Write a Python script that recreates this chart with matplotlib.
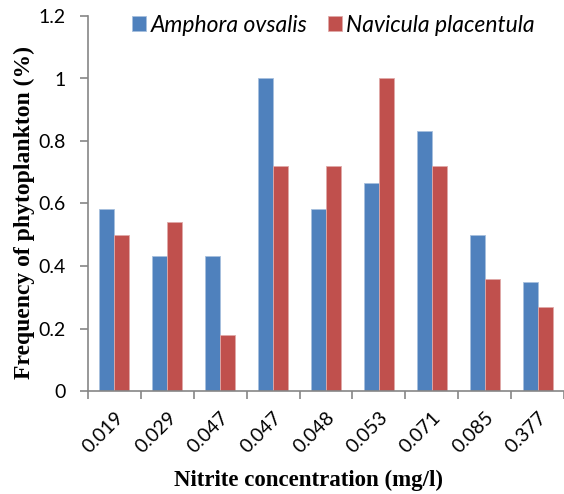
import numpy as np
import matplotlib.pyplot as plt

categories = ['0.019', '0.029', '0.047', '0.047', '0.048', '0.053', '0.071', '0.085', '0.377']
amphora = [0.583, 0.433, 0.433, 1.0, 0.583, 0.667, 0.833, 0.5, 0.35]
navicula = [0.5, 0.54, 0.18, 0.72, 0.72, 1.0, 0.72, 0.36, 0.27]

blue = '#4F81BD'
red = '#C0504D'
gray = '#868686'


def make_plot():
    fig = plt.figure(figsize=(5.64, 4.94), dpi=100)
    ax = fig.add_axes([88 / 564, 103 / 494, 476 / 564, 375 / 494])

    x = np.arange(len(categories))
    w = 0.283
    ax.bar(x - w / 2, amphora, w, color=blue, edgecolor='#a7c0de', linewidth=0.6, label='Amphora ovsalis')
    ax.bar(x + w / 2, navicula, w, color=red, edgecolor='#e0a9a8', linewidth=0.6, label='Navicula placentula')

    ax.set_xlim(-0.5, len(categories) - 0.5)
    ax.set_ylim(0, 1.2)
    ax.set_yticks([0, 0.2, 0.4, 0.6, 0.8, 1.0, 1.2])
    ax.set_yticklabels(['0', '0.2', '0.4', '0.6', '0.8', '1', '1.2'], family='Lato', fontsize=14)

    ax.set_xticks(x)
    ax.set_xticklabels(categories, rotation=45, ha='right', rotation_mode='anchor',
                       family='Lato', fontsize=14)
    ax.tick_params(axis='x', length=0, pad=13)
    ax.set_xticks(np.arange(len(categories) + 1) - 0.5, minor=True)
    ax.tick_params(axis='x', which='minor', length=6, color=gray, width=1.2)
    ax.tick_params(axis='y', length=6, color=gray, width=1.2, pad=10)

    for s in ['top', 'right']:
        ax.spines[s].set_visible(False)
    for s in ['left', 'bottom']:
        ax.spines[s].set_color(gray)
        ax.spines[s].set_linewidth(1.2)

    ax.set_xlabel('Nitrite concentration (mg/l)', family='Liberation Serif',
                  fontweight='bold', fontsize=16.5)
    ax.set_ylabel('Frequency of phytoplankton (%)', family='Liberation Serif',
                  fontweight='bold', fontsize=17)
    ax.xaxis.set_label_coords(0.464, -0.211)
    ax.yaxis.set_label_coords(-0.112, 0.477)

    ax.legend(loc='center', bbox_to_anchor=(0.516, 0.976), ncol=2, frameon=False,
              prop={'family': 'Lato', 'style': 'italic', 'size': 16.5},
              handlelength=0.6, handleheight=0.6, handletextpad=0.2, columnspacing=0.9,
              borderaxespad=0, borderpad=0)

    fig.savefig('out.png', dpi=100)


if __name__ == "__main__":
    make_plot()
